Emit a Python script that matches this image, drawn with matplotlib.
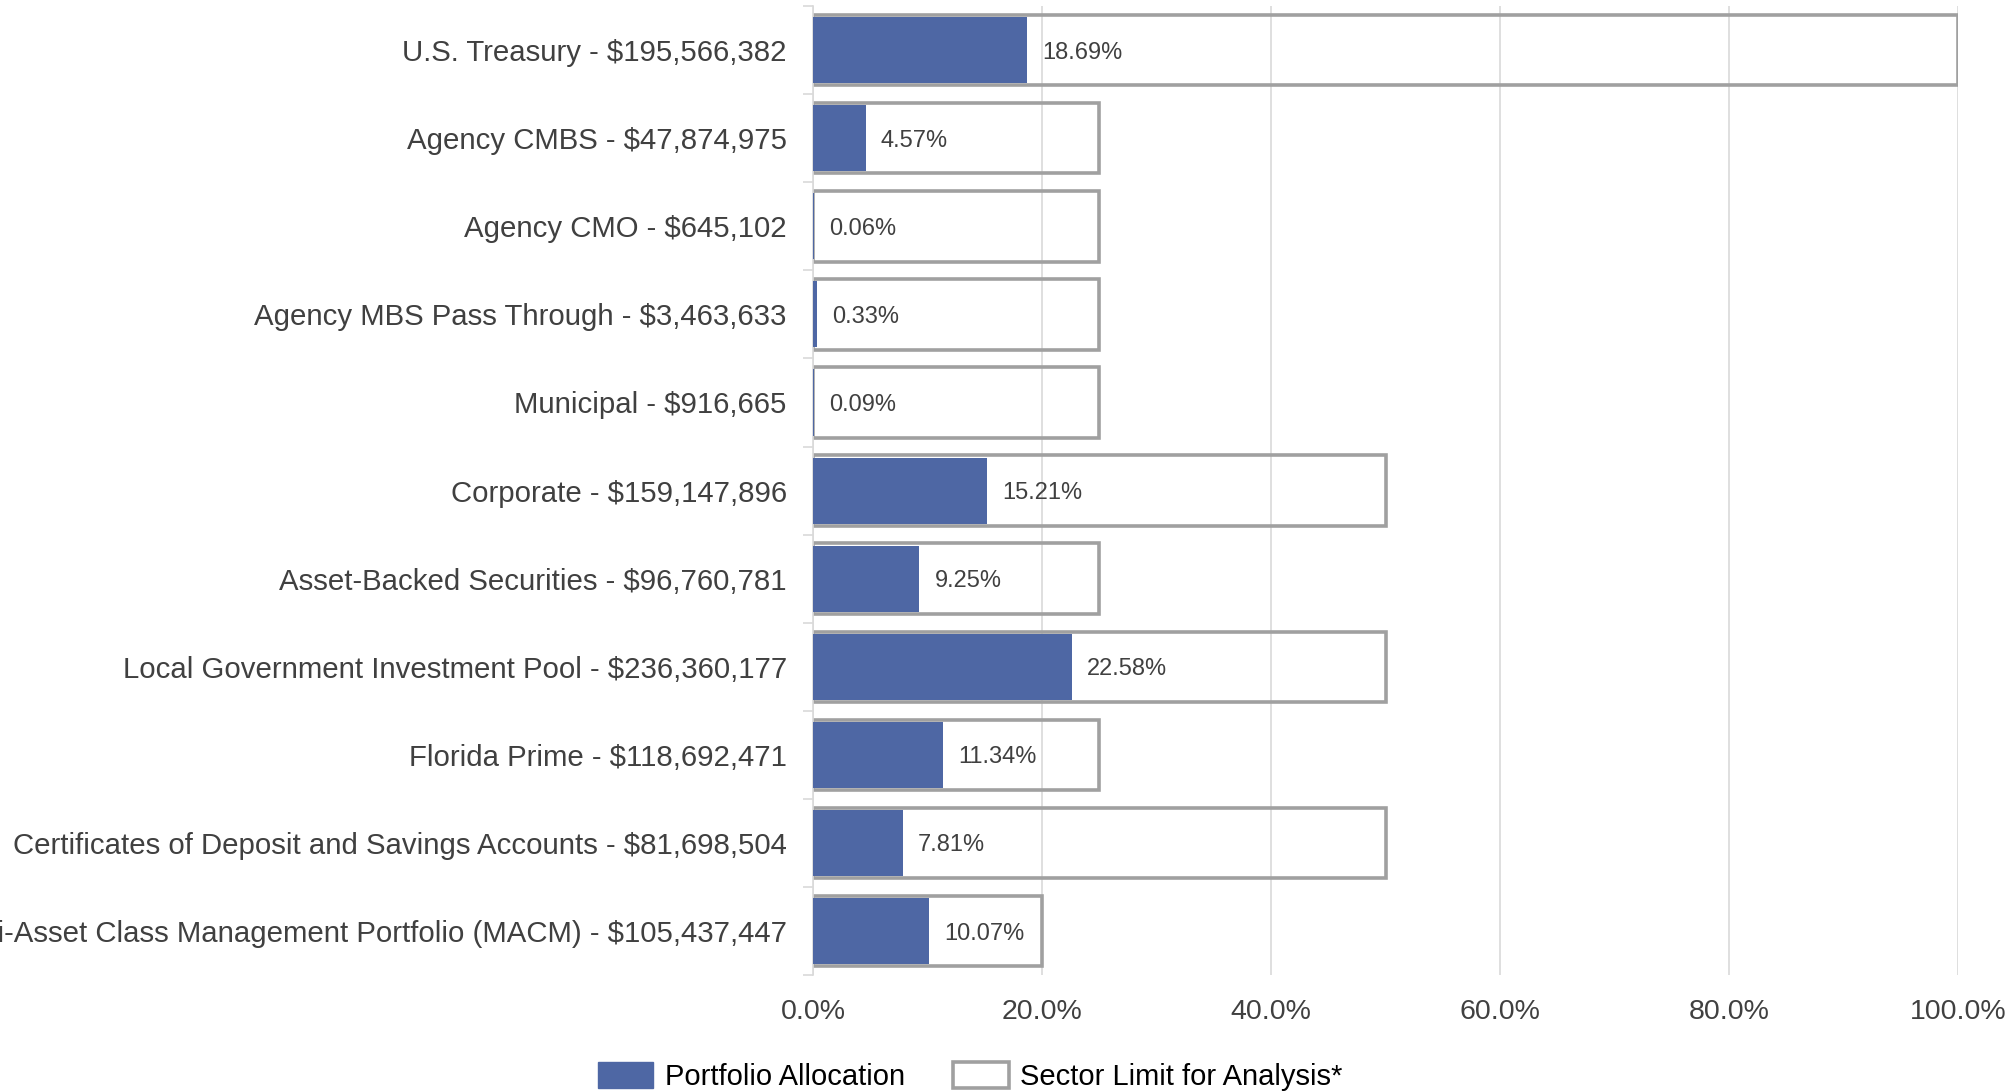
import matplotlib.pyplot as plt
from matplotlib.patches import Patch
from matplotlib.ticker import FuncFormatter, FixedLocator

plt.rcParams["font.family"] = ["Liberation Sans", "DejaVu Sans"]

categories = [
    "U.S. Treasury - $195,566,382",
    "Agency CMBS - $47,874,975",
    "Agency CMO - $645,102",
    "Agency MBS Pass Through - $3,463,633",
    "Municipal - $916,665",
    "Corporate - $159,147,896",
    "Asset-Backed Securities - $96,760,781",
    "Local Government Investment Pool - $236,360,177",
    "Florida Prime - $118,692,471",
    "Certificates of Deposit and Savings Accounts - $81,698,504",
    "Multi-Asset Class Management Portfolio (MACM) - $105,437,447",
]
allocation = [18.69, 4.57, 0.06, 0.33, 0.09, 15.21, 9.25, 22.58, 11.34, 7.81, 10.07]
sector_limit = [100, 25, 25, 25, 25, 50, 25, 50, 25, 50, 20]
x_ticks = [0, 20, 40, 60, 80, 100]

blue = "#4E67A4"
edge = "#A0A0A0"
text_col = "#404040"
grid_col = "#D9D9D9"

fig = plt.figure(figsize=(20.13, 10.92), dpi=100)
ax = fig.add_axes([0.404, 0.107, 0.5687, 0.8875])

y = list(range(len(categories)))

ax.barh(y, sector_limit, height=0.8, facecolor="none", edgecolor=edge,
        linewidth=2.6, zorder=2)
ax.barh(y, allocation, height=0.75, color=blue, zorder=3)

for yi, v in zip(y, allocation):
    ax.annotate(f"{v:.2f}%", xy=(v, yi), xytext=(11, 0), textcoords="offset points",
                va="center_baseline", ha="left", fontsize=17, color=text_col, zorder=4)

ax.set_xlim(0, 100)
ax.set_ylim(len(categories) - 0.5, -0.5)
ax.xaxis.set_major_locator(FixedLocator(x_ticks))
ax.xaxis.set_major_formatter(FuncFormatter(lambda v, p: f"{v:.1f}%"))
ax.set_yticks(y)
ax.set_yticklabels(categories)
ax.yaxis.set_minor_locator(FixedLocator([i - 0.5 for i in range(len(categories) + 1)]))

ax.tick_params(axis="x", length=0, pad=17.5, labelsize=20.5, labelcolor=text_col)
ax.tick_params(axis="y", which="major", length=0, pad=19, labelsize=21.2, labelcolor=text_col)
ax.tick_params(axis="y", which="minor", length=7, width=1.2, color=grid_col)

ax.grid(axis="x", color=grid_col, linewidth=1.2, zorder=0)
ax.set_axisbelow(True)
for s in ["top", "right", "bottom"]:
    ax.spines[s].set_visible(False)
ax.spines["left"].set_color(grid_col)
ax.spines["left"].set_linewidth(1.2)

handles = [
    Patch(facecolor=blue, edgecolor=blue, label="Portfolio Allocation"),
    Patch(facecolor="white", edgecolor=edge, linewidth=2.6, label="Sector Limit for Analysis*"),
]
fig.legend(handles=handles, loc="center", bbox_to_anchor=(0.482, 0.014), ncol=2,
           frameon=False, fontsize=21, handlelength=1.9, handleheight=1.0,
           columnspacing=1.65, handletextpad=0.4, labelcolor="#000000")

fig.savefig("out.png", dpi=100)
